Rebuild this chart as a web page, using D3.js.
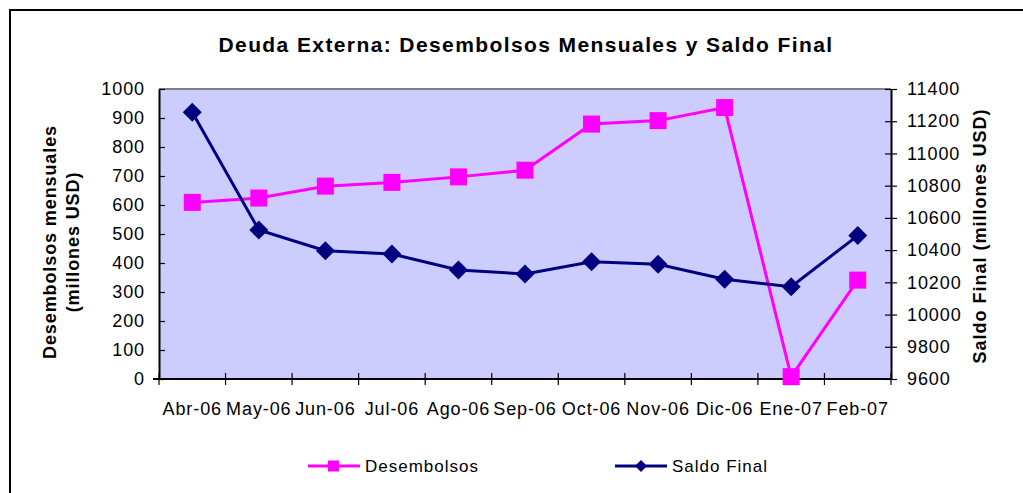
<!DOCTYPE html>
<html>
<head>
<meta charset="utf-8">
<script src="https://cdn.jsdelivr.net/npm/d3@7"></script>
<style>
  body { margin: 0; background: #fff; }
  text { font-family: "Liberation Sans", Arial, sans-serif; fill: #000; }
</style>
</head>
<body>
<svg id="chart" width="1023" height="493"></svg>
<script>
// data
var months = ["Abr-06", "May-06", "Jun-06", "Jul-06", "Ago-06", "Sep-06",
              "Oct-06", "Nov-06", "Dic-06", "Ene-07", "Feb-07"];
var desembolsos = [609, 624, 665, 678, 697, 720, 879, 891, 936, 8, 341];
var saldoFinal = [11255, 10525, 10396, 10376, 10277, 10252, 10328, 10312, 10219, 10173, 10490];
var leftTicks = [0, 100, 200, 300, 400, 500, 600, 700, 800, 900, 1000];
var rightTicks = [9600, 9800, 10000, 10200, 10400, 10600, 10800, 11000, 11200, 11400];

var plot = { left: 159, right: 891, top: 89, bottom: 379 };

var svg = d3.select("#chart");

// outer frame (runs off the right and bottom of the picture)
svg.append("rect")
    .attr("x", 10).attr("y", 10)
    .attr("width", 1030).attr("height", 500)
    .attr("fill", "none")
    .attr("stroke", "#000")
    .attr("stroke-width", 2);

svg.append("text")
    .attr("x", 526).attr("y", 52)
    .attr("text-anchor", "middle")
    .style("font-size", "21px")
    .style("font-weight", "bold")
    .style("letter-spacing", "1.4px")
    .text("Deuda Externa: Desembolsos Mensuales y Saldo Final");

var x = d3.scaleBand()
    .domain(months)
    .range([plot.left, plot.right]);

var yL = d3.scaleLinear().domain([0, 1000]).range([plot.bottom, plot.top]);
var yR = d3.scaleLinear().domain([9600, 11400]).range([plot.bottom, plot.top]);

// plot background
svg.append("rect")
    .attr("x", plot.left).attr("y", plot.top)
    .attr("width", plot.right - plot.left)
    .attr("height", plot.bottom - plot.top)
    .attr("fill", "#CCCCFF");
svg.append("line")
    .attr("x1", plot.left).attr("x2", plot.right)
    .attr("y1", plot.top).attr("y2", plot.top)
    .attr("stroke", "#808080").attr("stroke-width", 2);

var tickFont = function(g) {
    g.selectAll("text")
        .style("font-size", "18px")
        .style("letter-spacing", "0.9px")
        .attr("fill", "#000");
    g.selectAll("line").attr("stroke", "#000").attr("stroke-width", 1.2);
    g.select(".domain").attr("stroke", "#000").attr("stroke-width", 2);
};

// left axis
var gl = svg.append("g")
    .attr("transform", `translate(${plot.left},0)`)
    .call(d3.axisLeft(yL).tickValues(leftTicks).tickFormat(d3.format("d"))
        .tickSize(6).tickSizeOuter(0).tickPadding(8));
gl.selectAll(".tick line").attr("x2", 6);
tickFont(gl);

// right axis
var gr = svg.append("g")
    .attr("transform", `translate(${plot.right},0)`)
    .call(d3.axisRight(yR).tickValues(rightTicks).tickFormat(d3.format("d"))
        .tickSize(6).tickSizeOuter(0).tickPadding(10));
gr.selectAll(".tick line").attr("x1", -6);
tickFont(gr);

// bottom axis: ticks sit between categories
var gb = svg.append("g")
    .attr("transform", `translate(0,${plot.bottom})`)
    .call(d3.axisBottom(x).tickSize(0).tickPadding(23));
tickFont(gb);
gb.select(".domain").attr("d", `M${plot.left - 6},0H${plot.right}`);
var edges = months.map(d => x(d)).concat([plot.right]);
gb.selectAll(".edge")
    .data(edges)
    .enter().append("line")
    .attr("x1", d => d).attr("x2", d => d)
    .attr("y1", -6).attr("y2", 6)
    .attr("stroke", "#000").attr("stroke-width", 1.2);

// axis titles
var lt = svg.append("text")
    .attr("transform", "translate(56,242) rotate(-90)")
    .attr("text-anchor", "middle")
    .style("font-size", "18px")
    .style("font-weight", "bold")
    .style("letter-spacing", "0.9px");
lt.append("tspan").attr("x", 0).attr("dy", 0).text("Desembolsos mensuales");
lt.append("tspan").attr("x", 0).attr("dy", 23).text("(millones USD)");

svg.append("text")
    .attr("transform", "translate(986,236) rotate(-90)")
    .attr("text-anchor", "middle")
    .style("font-size", "18px")
    .style("font-weight", "bold")
    .style("letter-spacing", "1px")
    .text("Saldo Final (millones USD)");

var cx = d => x(d) + x.bandwidth() / 2;

// Desembolsos series
svg.append("path")
    .datum(desembolsos)
    .attr("fill", "none")
    .attr("stroke", "#FF00FF")
    .attr("stroke-width", 3)
    .attr("d", d3.line().x((d, i) => cx(months[i])).y(d => yL(d)));
svg.selectAll(".sq")
    .data(desembolsos)
    .enter().append("rect")
    .attr("x", (d, i) => cx(months[i]) - 8.5)
    .attr("y", d => yL(d) - 8.5)
    .attr("width", 17).attr("height", 17)
    .attr("fill", "#FF00FF");

// Saldo Final series
svg.append("path")
    .datum(saldoFinal)
    .attr("fill", "none")
    .attr("stroke", "#000080")
    .attr("stroke-width", 3)
    .attr("d", d3.line().x((d, i) => cx(months[i])).y(d => yR(d)));
svg.selectAll(".dm")
    .data(saldoFinal)
    .enter().append("path")
    .attr("transform", (d, i) => `translate(${cx(months[i])},${yR(d)})`)
    .attr("d", "M0,-9.5L9.5,0L0,9.5L-9.5,0Z")
    .attr("fill", "#000080");

// legend
var legend = [
    { name: "Desembolsos", color: "#FF00FF", x: 308, shape: "sq" },
    { name: "Saldo Final", color: "#000080", x: 615, shape: "dm" }
];
var lg = svg.selectAll(".lg")
    .data(legend)
    .enter().append("g")
    .attr("transform", d => `translate(${d.x},466)`);
lg.append("line")
    .attr("x1", 0).attr("x2", 52)
    .attr("stroke", d => d.color).attr("stroke-width", 3);
lg.append("path")
    .attr("d", d => d.shape == "sq" ? "M20,-5.5h11v11h-11Z" : "M26,-6L32,0L26,6L20,0Z")
    .attr("fill", d => d.color);
lg.append("text")
    .attr("x", 57).attr("y", 6)
    .style("font-size", "17px")
    .style("letter-spacing", "1px")
    .text(d => d.name);
</script>
</body>
</html>
